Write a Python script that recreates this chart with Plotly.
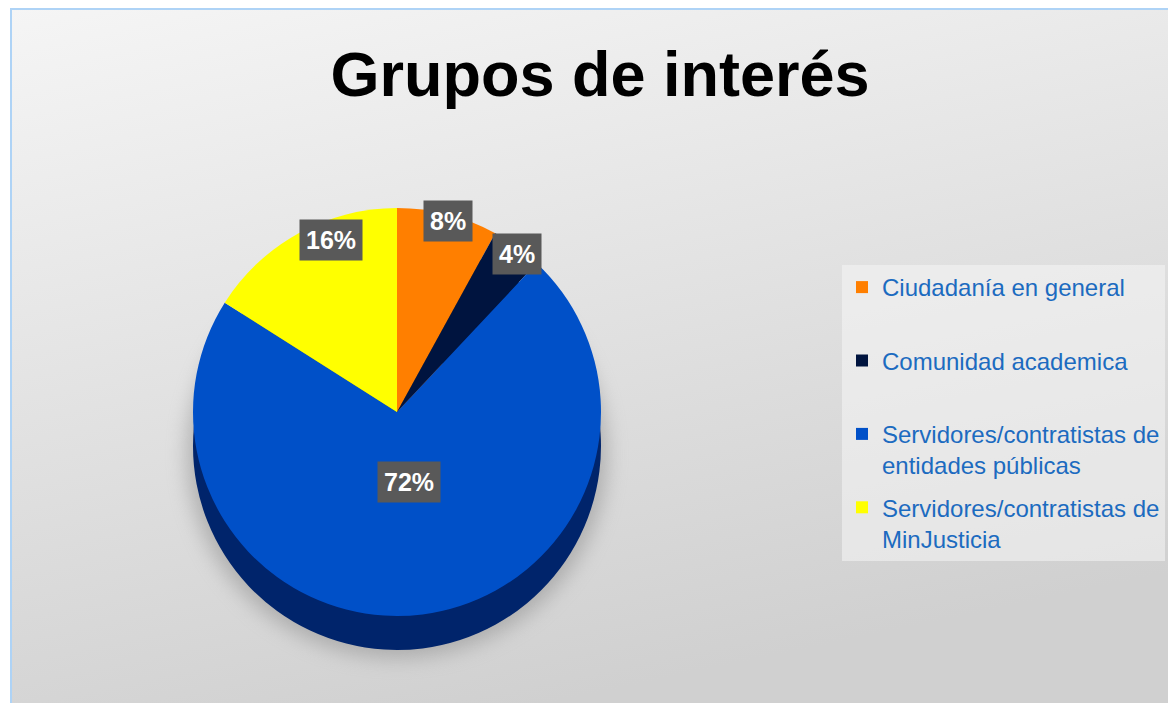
import base64
import math
import plotly.graph_objects as go

# ---------------- data ----------------
labels = ["Ciudadanía en general", "Comunidad academica",
          "Servidores/contratistas de entidades públicas",
          "Servidores/contratistas de MinJusticia"]
legend_names = ["Ciudadanía en general<br> ", "Comunidad academica<br> ",
                "Servidores/contratistas de<br>entidades públicas",
                "Servidores/contratistas de<br>MinJusticia"]
values = [8, 4, 72, 16]
face_colors = ["#ff7f00", "#00143f", "#0050c8", "#ffff00"]
side_colors = ["#b85a00", "#000a20", "#00246b", "#b8b800"]
title_text = "Grupos de interés"

# ---------------- geometry (page pixels) ----------------
W, H = 1176, 703
OFF = 8  # body margin of the html page
cx, face_top, r, depth = 397, 208, 204, 34
FONT = "Liberation Sans, Arial, sans-serif"


def px(x):
    return (x - OFF) / W


def py(y):
    return 1 - (y - OFF) / H


# background (gradient + border + pie shadow) as an SVG image
bw, bh = 1200, 720
ox, oy = 10, 8
svg = f"""<svg xmlns='http://www.w3.org/2000/svg' width='{bw}' height='{bh}'>
<defs>
<linearGradient id='g' x1='0' y1='0' x2='0.35' y2='1'>
<stop offset='0' stop-color='#f5f5f5'/><stop offset='1' stop-color='#d0d0d0'/>
</linearGradient>
<filter id='b' x='-20%' y='-20%' width='140%' height='140%'><feGaussianBlur stdDeviation='10'/></filter>
</defs>
<rect x='0' y='0' width='{bw}' height='{bh}' fill='url(#g)'/>
<ellipse cx='{cx - ox}' cy='{face_top + r + depth + 8 - oy}' rx='{r + 6}' ry='{r}' fill='#8c8c8c' opacity='0.55' filter='url(#b)'/>
<rect x='1' y='1' width='{bw}' height='{bh}' fill='none' stroke='#aed3f6' stroke-width='2'/>
</svg>"""
src = "data:image/svg+xml;base64," + base64.b64encode(svg.encode()).decode()

fig = go.Figure()

# side (depth) of the pie
fig.add_trace(go.Pie(
    labels=labels, values=values, sort=False, direction="clockwise", rotation=0,
    marker=dict(colors=side_colors, line=dict(width=0)), textinfo="none",
    hoverinfo="skip", showlegend=False,
    domain=dict(x=[px(cx - r), px(cx + r)],
                y=[py(face_top + depth + 2 * r), py(face_top + depth)]),
))
# top face
fig.add_trace(go.Pie(
    labels=labels, values=values, sort=False, direction="clockwise", rotation=0,
    marker=dict(colors=face_colors, line=dict(width=0)), textinfo="none",
    hoverinfo="label+percent", showlegend=False,
    domain=dict(x=[px(cx - r), px(cx + r)],
                y=[py(face_top + 2 * r), py(face_top)]),
))

# legend entries
for i, (name, col) in enumerate(zip(legend_names, face_colors)):
    fig.add_trace(go.Scatter(
        x=[None], y=[None], mode="markers", name=name, legendgroup=f"g{i}",
        marker=dict(symbol="square", size=12, color=col),
    ))

# percentage labels
total = sum(values)
cum = 0
annotations = []
fcy = face_top + r
for v in values:
    mid = (cum + v / 2) / total * 2 * math.pi
    cum += v
    pct = v / total
    k = 0.45 if pct > 0.5 else 1.0
    shift = 0 if pct > 0.5 else 14
    x = cx + k * r * math.sin(mid)
    y = fcy - k * r * math.cos(mid) - shift
    annotations.append(dict(
        x=px(x), y=py(y), xref="paper", yref="paper", showarrow=False,
        text=f"<b>{round(pct * 100)}%</b>",
        font=dict(family=FONT, size=25, color="white"),
        bgcolor="#595959", borderpad=6,
    ))

fig.update_layout(
    width=W, height=H, autosize=False,
    margin=dict(l=0, r=0, t=0, b=0),
    paper_bgcolor="white", plot_bgcolor="rgba(0,0,0,0)",
    xaxis=dict(visible=False), yaxis=dict(visible=False),
    images=[dict(source=src, xref="paper", yref="paper", x=px(ox), y=py(oy),
                 sizex=bw / W, sizey=bh / H, xanchor="left", yanchor="top",
                 sizing="stretch", layer="below")],
    title=dict(text=f"<b>{title_text}</b>", x=px(600), xanchor="center",
               y=py(74), yanchor="middle", yref="paper",
               font=dict(family=FONT, size=63, color="black")),
    legend=dict(x=px(842), y=py(265), xanchor="left", yanchor="top",
                bgcolor="rgba(245,245,245,0.55)", valign="top",
                tracegroupgap=8,
                font=dict(family=FONT, size=24, color="#1c6bc0")),
    annotations=annotations,
    showlegend=True,
)

fig.write_html("out.html")
